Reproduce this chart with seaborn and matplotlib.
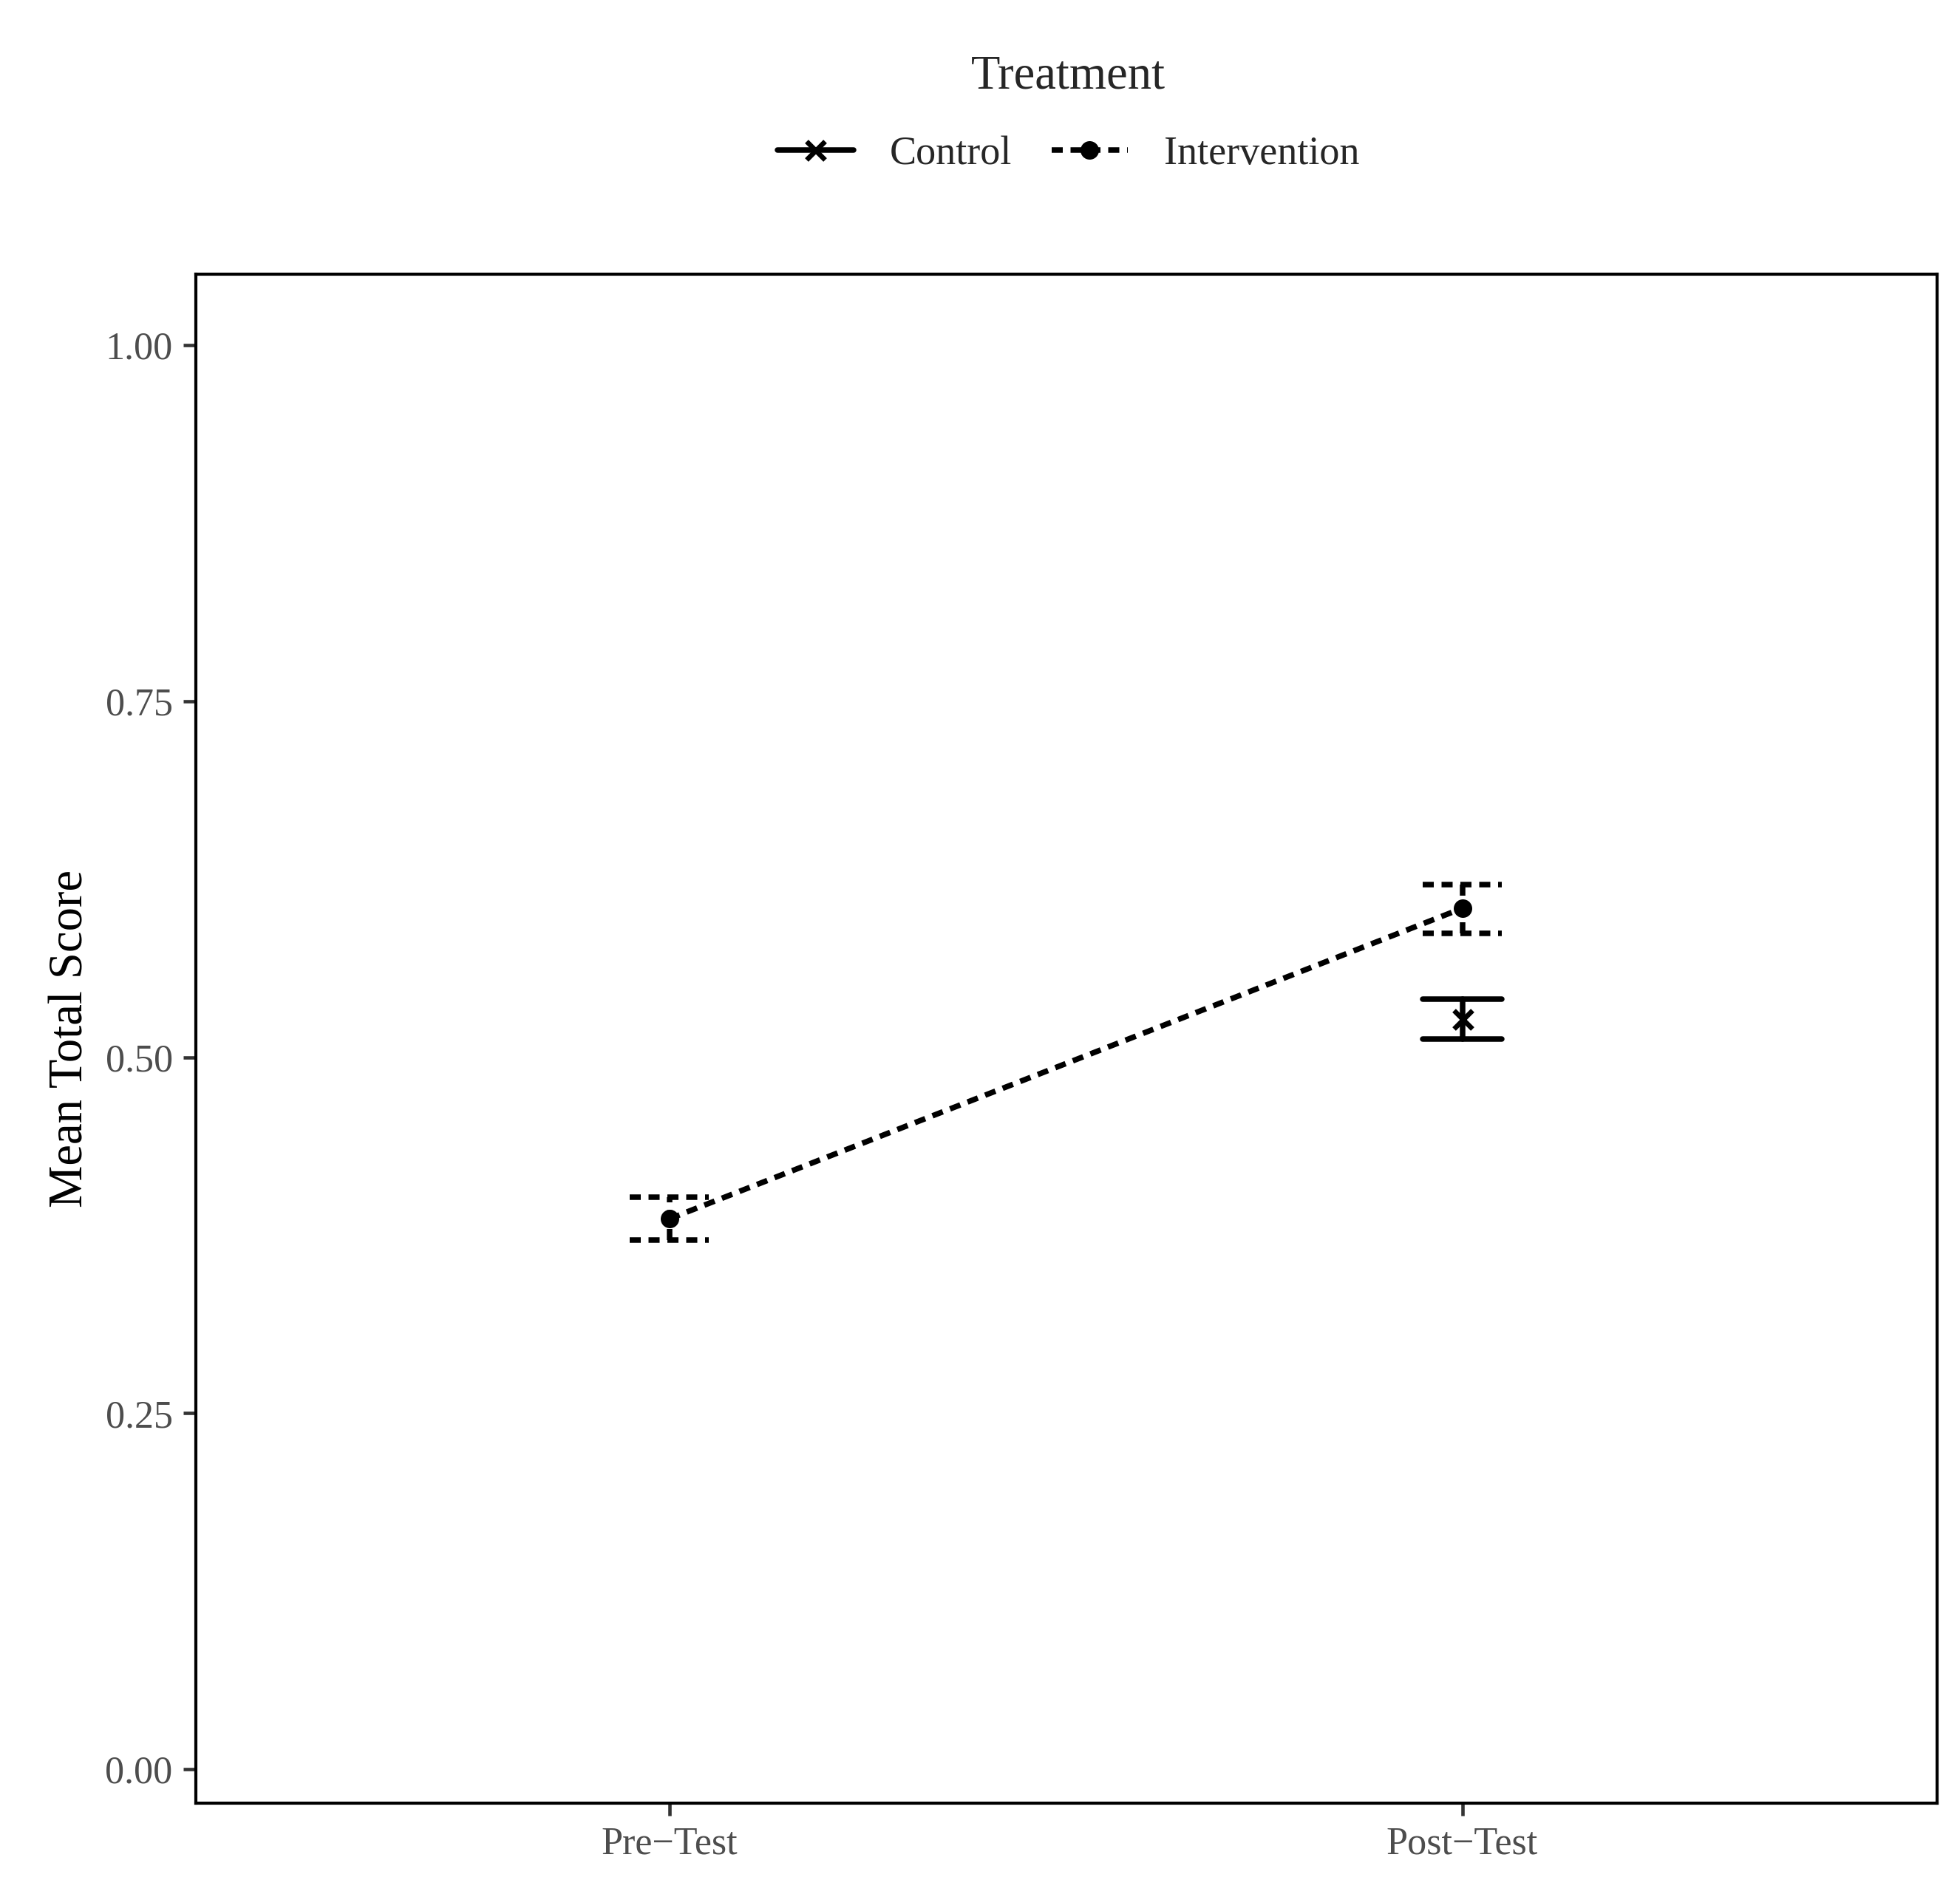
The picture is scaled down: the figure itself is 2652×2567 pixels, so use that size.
import matplotlib
matplotlib.use("Agg")
import matplotlib.pyplot as plt
import seaborn as sns
import pandas as pd
from matplotlib.lines import Line2D

# Data
time_labels = ["Pre\u2212Test", "Post\u2212Test"]
int_time = [0, 1]
int_mean = [0.3865, 0.6046]
int_lo = [0.3715, 0.587]
int_hi = [0.4016, 0.6215]
ctl_time = [1]
ctl_mean = [0.527]
ctl_lo = [0.513]
ctl_hi = [0.541]

sns.set_theme(style="white")
plt.rcParams["font.family"] = ["Liberation Serif", "DejaVu Serif"]

LW = 1.8
DASH = (0, (2.0, 1.4))

fig = plt.figure(figsize=(8.84, 8.557), dpi=300)
ax = fig.add_axes([0.0999, 0.0493, 0.8885, 0.8062])

df_int = pd.DataFrame({"time": int_time, "mean": int_mean})
sns.lineplot(data=df_int, x="time", y="mean", ax=ax, color="black",
             linestyle=DASH, lw=LW, marker="o", markersize=6,
             markeredgewidth=0)
df_ctl = pd.DataFrame({"time": ctl_time, "mean": ctl_mean})
sns.lineplot(data=df_ctl, x="time", y="mean", ax=ax, color="black",
             lw=LW, marker="x", markersize=6, markeredgewidth=1.6,
             markeredgecolor="black")

# error bars
for t, lo, hi in zip(int_time, int_lo, int_hi):
    ax.plot([t, t], [lo, hi], color="black", lw=LW, linestyle=DASH)
    for y in (lo, hi):
        ax.plot([t - 0.05, t + 0.05], [y, y], color="black", lw=LW,
                linestyle=DASH)
for t, lo, hi in zip(ctl_time, ctl_lo, ctl_hi):
    ax.plot([t, t], [lo, hi], color="black", lw=LW)
    for y in (lo, hi):
        ax.plot([t - 0.05, t + 0.05], [y, y], color="black", lw=LW)

ax.set_xlim(-0.597, 1.599)
ax.set_ylim(-0.024, 1.05)
ax.set_xticks([0, 1])
ax.set_xticklabels(time_labels)
ax.set_yticks([0, 0.25, 0.5, 0.75, 1.0])
ax.set_yticklabels(["0.00", "0.25", "0.50", "0.75", "1.00"])
ax.tick_params(axis="both", length=4, width=1.1, color="#333333",
               labelsize=12.5, labelcolor="#4d4d4d", bottom=True, left=True)
ax.set_xlabel("")
ax.set_ylabel("Mean Total Score", fontsize=15.5, color="black")
for s in ax.spines.values():
    s.set_color("black")
    s.set_linewidth(1.0)

handles = [
    Line2D([], [], color="black", lw=LW, marker="x", markersize=6,
           markeredgewidth=1.6),
    Line2D([], [], color="black", lw=LW, linestyle=DASH,
           marker="o", markersize=6, markeredgewidth=0),
]
leg = fig.legend(handles, ["Control", "Intervention"], title="Treatment",
                 loc="upper center", bbox_to_anchor=(0.545, 0.99), ncol=2,
                 frameon=False, fontsize=13, title_fontsize=15.5,
                 handlelength=1.9, columnspacing=1.0, handletextpad=0.9)
leg._legend_box.sep = 12

fig.savefig("out.png", dpi=300)
